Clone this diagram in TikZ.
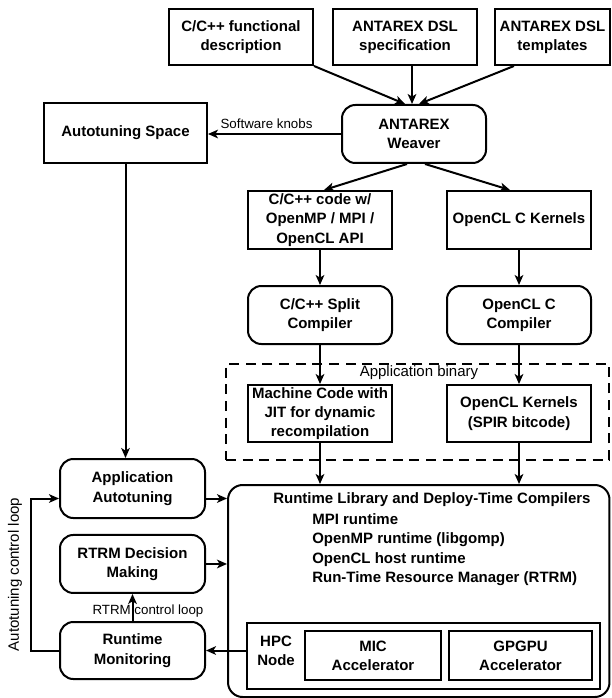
\documentclass[tikz,border=0pt]{standalone}
\usepackage{fontspec}
\setmainfont{Liberation Sans}
\usetikzlibrary{arrows.meta, positioning}

\newcommand{\bigsz}{\fontsize{11.25}{14.5}\selectfont}
\newcommand{\smallsz}{\fontsize{10}{12}\selectfont}

\begin{document}
\begin{tikzpicture}[x=0.75pt,y=-0.75pt,on grid,
  blk/.style={draw, line width=1.5pt, font=\bigsz\bfseries, align=center,
    inner sep=1pt, minimum width=108pt, minimum height=43.5pt},
  rblk/.style={blk, rounded corners=10pt},
  lbl/.style={font=\smallsz, inner sep=1pt},
  arr/.style={-{Stealth[length=7.5pt,width=6.5pt,inset=2pt]}, line width=1.5pt}]
  \useasboundingbox (0,0) rectangle (611,698);

  % inputs of the weaver
  \node[blk, minimum height=42pt] (func) at (241,37) {C/C++ functional\\description};
  \node[blk, minimum height=42pt] (spec) [right=123pt of func] {ANTAREX DSL\\specification};
  \node[blk, minimum height=42pt, minimum width=86.25pt] (tmpl) [right=110.6pt of spec] {ANTAREX DSL\\templates};

  \node[rblk] (weaver) at (414,134) {ANTAREX\\Weaver};
  \node[blk, minimum width=122.25pt, minimum height=45pt] (space) at (125.5,133) {Autotuning Space};

  % compile flow
  \node[blk] (code) at (320,220) {C/C++ code w/\\OpenMP / MPI /\\OpenCL API};
  \node[blk] (kern) [right=149.25pt of code] {OpenCL C Kernels};
  \node[rblk] (split) [below=71.25pt of code] {C/C++ Split\\Compiler};
  \node[rblk] (oclc) [below=71.25pt of kern] {OpenCL C\\Compiler};

  \node[draw, line width=1.5pt, dash pattern=on 7.5pt off 5pt, inner sep=0,
    minimum width=287.6pt, minimum height=72pt] (binary) at (417.75,412) {};
  \node[font=\bigsz, inner sep=1pt] (binlbl) at (419,373) {Application binary};
  \node[blk, minimum height=42.75pt] (mcode) [below=73.9pt of split] {Machine Code with\\JIT for dynamic\\recompilation};
  \node[blk, minimum height=42.75pt] (spir) [below=73.9pt of oclc] {OpenCL Kernels\\(SPIR bitcode)};

  % runtime
  \node[draw, line width=1.5pt, rounded corners=11pt, inner sep=0,
    minimum width=286.1pt, minimum height=159pt] (rtlib) at (418.75,591) {};
  \node[anchor=west, font=\bigsz\bfseries, inner sep=0] (rtlibttl) at (273,500)
    {Runtime Library and Deploy-Time Compilers};
  \node[anchor=north west, font=\bigsz\bfseries, align=left, inner sep=0] (rtlibitm) at (312,513.5)
    {MPI runtime\\OpenMP runtime (libgomp)\\OpenCL host runtime\\Run-Time Resource Manager (RTRM)};

  \node[draw, line width=1.5pt, inner sep=0, minimum width=264.75pt, minimum height=49.5pt] (hpc) at (423.5,656) {};
  \node[font=\bigsz\bfseries, align=center, inner sep=0] (hpclbl) at (276,651) {HPC\\Node};
  \node[blk, minimum width=102pt, minimum height=36.75pt] (mic) at (373,655.5) {MIC\\Accelerator};
  \node[blk, minimum width=107.25pt, minimum height=36.75pt] (gpgpu) at (520.5,655.5) {GPGPU\\Accelerator};

  % control loops
  \node[rblk, minimum width=108.75pt, minimum height=44.25pt] (appat) at (132.5,488.5) {Application\\Autotuning};
  \node[rblk, minimum width=108.75pt, minimum height=43.5pt] (rtdm) [below=56.6pt of appat] {RTRM Decision\\Making};
  \node[rblk, minimum width=108.75pt, minimum height=42.75pt] (rtmon) [below=64.9pt of rtdm] {Runtime\\Monitoring};

  \coordinate (atin) at ([yshift=-7.5pt]appat.east);
  \coordinate (atloop) at ([yshift=-7.5pt]appat.west);

  \path[arr]
    (func.south east)           edge ([xshift=-6.75pt]weaver.north)
    ([xshift=5.25pt]spec.south) edge ([xshift=-1.5pt]weaver.north)
    ([xshift=-28.9pt]tmpl.south) edge ([xshift=3.75pt]weaver.north)
    (weaver.west) edge node[lbl, above=2.5pt, pos=0.56] {Software knobs} (weaver.west -| space.east)
    ([xshift=-5.25pt]weaver.south) edge ([xshift=3pt]code.north)
    ([xshift=8.25pt]weaver.south)  edge ([xshift=-6.75pt]kern.north)
    (code)  edge (split)
    (kern)  edge (oclc)
    (split) edge (mcode)
    (oclc)  edge (spir)
    (mcode) edge (mcode |- rtlib.north)
    (spir)  edge (spir |- rtlib.north)
    (space) edge (space |- appat.north)
    (atin)  edge (atin -| rtlib.west)
    (rtdm.east) edge (rtdm.east -| rtlib.west)
    (rtmon.east -| hpc.west) edge (rtmon.east)
    (rtmon) edge node[lbl, pos=0.38, xshift=11.6pt] {RTRM control loop} (rtdm);

  \draw[arr] (rtmon.west) -- ++(-28,0) |- (atloop)
    node[pos=0.25, font=\bigsz, rotate=90, anchor=south, inner sep=6pt] {Autotuning control loop};
\end{tikzpicture}
\end{document}
